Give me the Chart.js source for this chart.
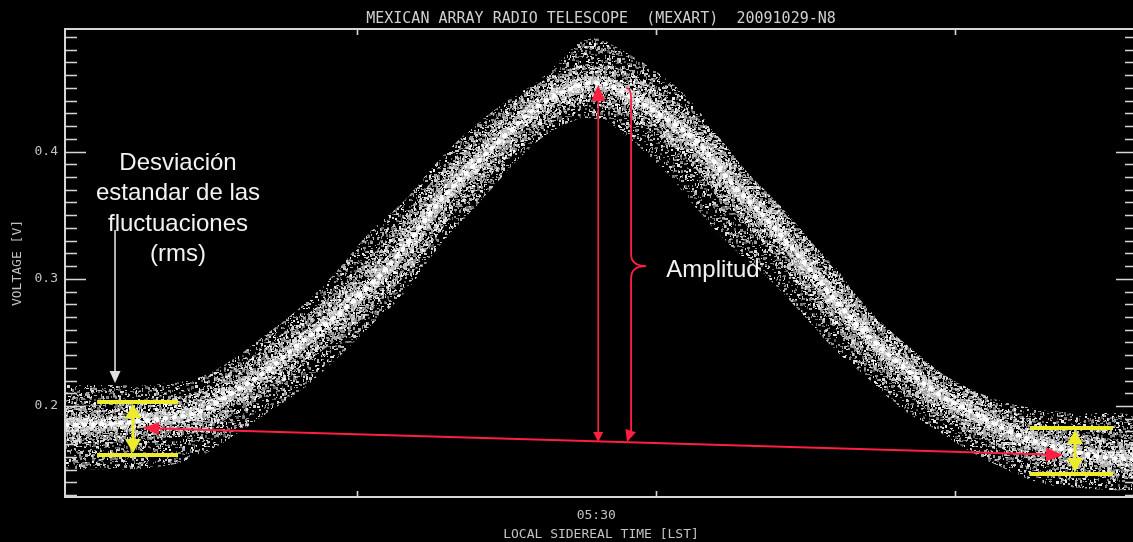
<!DOCTYPE html>
<html>
<head>
<meta charset="utf-8">
<title>MEXART 20091029-N8</title>
<script src="https://cdn.jsdelivr.net/npm/chart.js@4.4.1/dist/chart.umd.min.js"></script>
<style>
    html, body { margin: 0; padding: 0; background: #000; overflow: hidden; }
    canvas { display: block; }
</style>
</head>
<body>
<canvas id="scan" width="1140" height="542"></canvas>
<script>
// LST in minutes (05:30 = 330), voltage
const lstMinutes = [
    303.4, 305.6, 307.6, 310.0, 311.7, 313.5, 315.2, 316.9, 318.6, 320.4,
    322.1, 323.8, 325.6, 327.3, 329.0, 329.9, 330.8, 333.4, 335.1, 336.8,
    338.6, 340.3, 342.0, 343.7, 345.4, 347.1, 348.9, 350.6, 352.3, 354.0,
    355.8, 357.1,
];
const voltageMean = [
    0.185, 0.186, 0.189, 0.195, 0.210, 0.228, 0.250, 0.270, 0.294, 0.325,
    0.360, 0.388, 0.415, 0.438, 0.451, 0.454, 0.451, 0.427, 0.407, 0.375,
    0.346, 0.315, 0.283, 0.254, 0.231, 0.210, 0.195, 0.181, 0.171, 0.164,
    0.159, 0.158,
];
// upper / lower edge of the scatter cloud
const voltageUpper = [
    0.2165, 0.2165, 0.2165, 0.222, 0.236, 0.257, 0.278, 0.3045, 0.336, 0.362,
    0.393, 0.419, 0.4405, 0.458, 0.484, 0.489, 0.484, 0.4585, 0.433, 0.393,
    0.367, 0.336, 0.309, 0.273, 0.2495, 0.228, 0.2125, 0.2025, 0.197, 0.1945,
    0.1945, 0.193,
];
const voltageLower = [
    0.150, 0.1505, 0.151, 0.160, 0.1755, 0.1945, 0.2125, 0.236, 0.262, 0.289,
    0.325, 0.354, 0.3855, 0.411, 0.425, 0.426, 0.421, 0.3855, 0.354, 0.325,
    0.301, 0.273, 0.244, 0.2205, 0.197, 0.181, 0.163, 0.150, 0.1395, 0.136,
    0.134, 0.134,
];
const xLabelTicks = [330];
const xTickMarks = [318, 333, 348];
const yLabelTicks = [0.2, 0.3, 0.4];

(function () {
    "use strict";

    const xMin = 303.35, xMax = 357.13;
    const yMin = 0.1285, yMax = 0.4963;

    const axisText = "#c2c2c2";
    const frameColor = "#d6d6d6";
    const red = "#ff1f40";
    const yellow = "#ecec2a";
    const mono = "'DejaVu Sans Mono', monospace";

    // annotation anchors, in data units
    const notes = {
        baseline: { from: [307.26, 0.1827], to: [353.42, 0.1615] },
        amplitude: { x: 330.1, top: 0.4523, bottom: 0.1717 },
        brace: { x: 331.75, tip: 332.5, top: 0.4499, mid: 0.31, bottom: 0.1717 },
        rmsLeft: { x0: 304.96, x1: 309.02, xa: 306.76, top: 0.2031, bottom: 0.1615 },
        rmsRight: { x0: 351.76, x1: 355.93, xa: 354.02, top: 0.1827, bottom: 0.1466 },
        pointer: { x: 305.86, top: 0.3383, bottom: 0.2181 },
        rmsText: { x: 309.02, y: 0.391, lines: ["Desviación", "estandar de las", "fluctuaciones", "(rms)"] },
        ampText: { x: 335.86, y: 0.3069, text: "Amplitud" },
    };

    const points = (ys) => lstMinutes.map((x, i) => ({ x: x, y: ys[i] }));

    const fmtLST = (m) => {
        const h = Math.floor(m / 60);
        const mm = Math.round(m - h * 60);
        return String(h).padStart(2, "0") + ":" + String(mm).padStart(2, "0");
    };

    // speckle texture used as fill / stroke style for the noisy cloud
    function speckle(size, count, seed, lo, hi) {
        const c = document.createElement("canvas");
        c.width = c.height = size;
        const g = c.getContext("2d");
        let s = seed;
        const next = () => {
            s ^= s << 13; s ^= s >>> 17; s ^= s << 5;
            return (s >>> 0) / 4294967296;
        };
        for (let i = 0; i < count; i++) {
            const x = Math.floor(next() * size);
            const y = Math.floor(next() * size);
            const w = 1 + Math.floor(next() * 2.4);
            const h = 1 + Math.floor(next() * 2.4);
            const v = Math.round(lo + next() * (hi - lo));
            g.fillStyle = "rgb(" + v + "," + v + "," + v + ")";
            g.fillRect(x, y, w, h);
        }
        return g.createPattern(c, "repeat");
    }

    const ctx = document.getElementById("scan").getContext("2d");
    const bandTex = speckle(128, 2300, 0x1234567, 80, 240);
    const coreTex = speckle(128, 3800, 0x2468ace, 110, 255);
    const innerTex = speckle(128, 6500, 0x13579bd, 160, 255);

    function head(g, x, y, ang, len, wid) {
        const c = Math.cos(ang), s = Math.sin(ang);
        g.beginPath();
        g.moveTo(x, y);
        g.lineTo(x - len * c + (wid / 2) * s, y - len * s - (wid / 2) * c);
        g.lineTo(x - len * c - (wid / 2) * s, y - len * s + (wid / 2) * c);
        g.closePath();
        g.fill();
    }

    // frame with inward ticks, IDL style
    const framePlugin = {
        id: "frame",
        afterDatasetsDraw(chart) {
            const g = chart.ctx;
            const a = chart.chartArea;
            const ys = chart.scales.y, xs = chart.scales.x;
            g.save();
            g.strokeStyle = frameColor;
            g.lineWidth = 2;
            g.beginPath();
            g.moveTo(a.right, a.top); g.lineTo(a.left, a.top);
            g.lineTo(a.left, a.bottom); g.lineTo(a.right, a.bottom);
            g.stroke();

            g.lineWidth = 1.6;
            g.beginPath();
            for (let k = 13; k <= 49; k++) {
                const py = Math.round(ys.getPixelForValue(k / 100)) + 0.5;
                const len = k % 10 === 0 ? 21 : 12;
                g.moveTo(a.left, py); g.lineTo(a.left + len, py);
                g.moveTo(a.right, py); g.lineTo(a.right - len, py);
            }
            xTickMarks.forEach((v) => {
                const px = Math.round(xs.getPixelForValue(v)) + 0.5;
                g.moveTo(px, a.bottom); g.lineTo(px, a.bottom - 6);
                g.moveTo(px, a.top); g.lineTo(px, a.top + 6);
            });
            g.stroke();
            g.restore();
        },
    };

    const notesPlugin = {
        id: "notes",
        afterDraw(chart) {
            const g = chart.ctx;
            const X = (v) => chart.scales.x.getPixelForValue(v);
            const Y = (v) => chart.scales.y.getPixelForValue(v);
            g.save();

            // red baseline arrow
            const b = notes.baseline;
            const x0 = X(b.from[0]), y0 = Y(b.from[1]);
            const x1 = X(b.to[0]), y1 = Y(b.to[1]);
            const ang = Math.atan2(y1 - y0, x1 - x0);
            g.strokeStyle = red; g.fillStyle = red; g.lineWidth = 2;
            g.beginPath(); g.moveTo(x0 + 8, y0 + 8 * Math.tan(ang)); g.lineTo(x1 - 8, y1 - 8 * Math.tan(ang)); g.stroke();
            head(g, x0, y0, ang + Math.PI, 16, 13);
            head(g, x1, y1, ang, 17, 14);

            // red amplitude arrow
            const am = notes.amplitude;
            const ax = X(am.x);
            g.lineWidth = 1.6;
            g.beginPath(); g.moveTo(ax, Y(am.top) + 10); g.lineTo(ax, Y(am.bottom) - 6); g.stroke();
            head(g, ax, Y(am.top), -Math.PI / 2, 16, 14);
            head(g, ax, Y(am.bottom), Math.PI / 2, 10, 10);

            // red curly brace
            const br = notes.brace;
            const bx = X(br.x), tx = X(br.tip);
            const bt = Y(br.top), bm = Y(br.mid), bb = Y(br.bottom);
            g.lineWidth = 1.8;
            g.beginPath();
            g.moveTo(bx - 5, bt);
            g.quadraticCurveTo(bx, bt, bx, bt + 10);
            g.lineTo(bx, bm - 12);
            g.quadraticCurveTo(bx, bm, tx, bm);
            g.quadraticCurveTo(bx, bm, bx, bm + 12);
            g.lineTo(bx, bb - 8);
            g.stroke();
            head(g, bx - 4, bb, Math.PI / 2 + 0.3, 12, 11);

            // yellow rms markers
            [notes.rmsLeft, notes.rmsRight].forEach((r) => {
                const l = X(r.x0), rr = X(r.x1), xa = X(r.xa);
                const t = Y(r.top), bo = Y(r.bottom);
                g.strokeStyle = yellow; g.fillStyle = yellow;
                g.lineWidth = 4;
                g.beginPath();
                g.moveTo(l, t); g.lineTo(rr, t);
                g.moveTo(l, bo); g.lineTo(rr, bo);
                g.stroke();
                g.lineWidth = 3;
                g.beginPath(); g.moveTo(xa, t + 12); g.lineTo(xa, bo - 12); g.stroke();
                head(g, xa, t + 2, -Math.PI / 2, 14, 16);
                head(g, xa, bo - 2, Math.PI / 2, 14, 16);
            });

            // white pointer
            const p = notes.pointer;
            const pxp = X(p.x);
            g.strokeStyle = "#e0e0e0"; g.fillStyle = "#e0e0e0"; g.lineWidth = 1.6;
            g.beginPath(); g.moveTo(pxp, Y(p.top)); g.lineTo(pxp, Y(p.bottom) - 10); g.stroke();
            head(g, pxp, Y(p.bottom), Math.PI / 2, 12, 11);

            // labels
            g.fillStyle = "#f2f2f2";
            g.font = "24px 'Liberation Sans', Arial, sans-serif";
            g.textAlign = "center";
            g.textBaseline = "middle";
            const t = notes.rmsText;
            t.lines.forEach((line, i) => g.fillText(line, X(t.x), Y(t.y) + i * 30.5));
            g.fillText(notes.ampText.text, X(notes.ampText.x), Y(notes.ampText.y));

            g.restore();
        },
    };

    const lineBase = {
        pointRadius: 0,
        tension: 0.35,
        fill: false,
        clip: 0,
    };

    new Chart(ctx, {
        type: "line",
        data: {
            datasets: [
                Object.assign({}, lineBase, {
                    label: "mean",
                    data: points(voltageMean),
                    borderColor: "#ffffff",
                    borderWidth: 4.5,
                    borderDash: [1, 8],
                    borderCapStyle: "round",
                    order: 0,
                }),
                Object.assign({}, lineBase, {
                    label: "inner",
                    data: points(voltageMean),
                    borderColor: innerTex,
                    borderWidth: 14,
                    order: 1,
                }),
                Object.assign({}, lineBase, {
                    label: "core",
                    data: points(voltageMean),
                    borderColor: coreTex,
                    borderWidth: 38,
                    order: 2,
                }),
                Object.assign({}, lineBase, {
                    label: "upper",
                    data: points(voltageUpper),
                    borderWidth: 0,
                    borderColor: "rgba(0,0,0,0)",
                    backgroundColor: bandTex,
                    fill: "+1",
                    order: 3,
                }),
                Object.assign({}, lineBase, {
                    label: "lower",
                    data: points(voltageLower),
                    borderWidth: 0,
                    borderColor: "rgba(0,0,0,0)",
                    order: 4,
                }),
            ],
        },
        options: {
            responsive: false,
            animation: false,
            events: [],
            layout: { padding: { right: 3 } },
            plugins: {
                legend: { display: false },
                tooltip: { enabled: false },
                title: {
                    display: true,
                    fullSize: false,
                    text: "MEXICAN ARRAY RADIO TELESCOPE  (MEXART)  20091029-N8",
                    color: "#cfcfcf",
                    font: { family: mono, size: 15, weight: "normal" },
                    padding: { top: 10, bottom: 1 },
                },
            },
            scales: {
                x: {
                    type: "linear",
                    min: xMin,
                    max: xMax,
                    afterFit(scale) { scale.height = 45; },
                    afterBuildTicks(scale) {
                        scale.ticks = xLabelTicks.map((v) => ({ value: v }));
                    },
                    ticks: {
                        callback: (v) => fmtLST(v),
                        color: axisText,
                        font: { family: mono, size: 13 },
                        padding: 11,
                        maxRotation: 0,
                        autoSkip: false,
                    },
                    grid: { display: false, drawTicks: false },
                    border: { display: false },
                    title: {
                        display: true,
                        text: "LOCAL SIDEREAL TIME [LST]",
                        color: axisText,
                        font: { family: mono, size: 13 },
                        padding: { top: 0, bottom: 0 },
                    },
                },
                y: {
                    min: yMin,
                    max: yMax,
                    afterFit(scale) { scale.width = 65; },
                    afterBuildTicks(scale) {
                        scale.ticks = yLabelTicks.map((v) => ({ value: v }));
                    },
                    ticks: {
                        callback: (v) => v.toFixed(1),
                        color: axisText,
                        font: { family: mono, size: 13 },
                        padding: 7,
                    },
                    grid: { display: false, drawTicks: false },
                    border: { display: false },
                    title: {
                        display: true,
                        text: "VOLTAGE [V]",
                        color: axisText,
                        font: { family: mono, size: 13 },
                        padding: { top: 10, bottom: 0 },
                    },
                },
            },
        },
        plugins: [framePlugin, notesPlugin],
    });
})();
</script>
</body>
</html>
